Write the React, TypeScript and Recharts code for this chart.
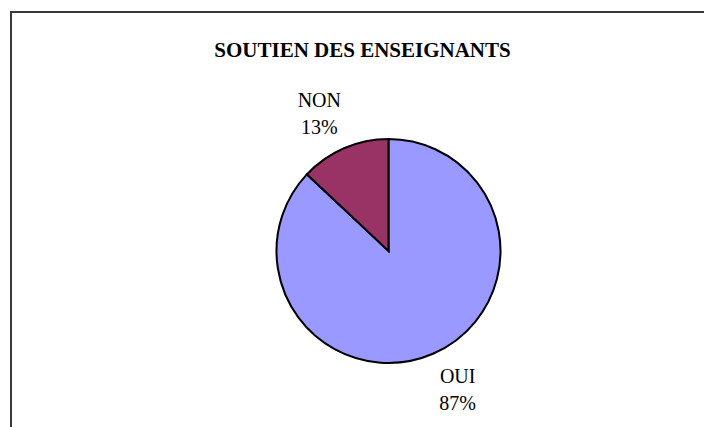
import React from "react";
import { PieChart, Pie, Cell } from "recharts";

const categories = ["OUI", "NON"];
const values = [87, 13];
const percentLabels = ["87%", "13%"];
const colors = ["#9999FF", "#993366"];
const title = "SOUTIEN DES ENSEIGNANTS";

const data = categories.map((name, i) => ({ name, value: values[i], pct: percentLabels[i] }));

const RAD = Math.PI / 180;

const renderLabel = (props: any) => {
  const { cx, cy, midAngle, outerRadius, index } = props;
  const r = outerRadius + 42;
  const a = (midAngle + 3.3) * RAD;
  const x = cx + r * Math.cos(a);
  const y = cy - r * Math.sin(a);
  return (
    <text
      x={x}
      y={y}
      textAnchor="middle"
      fontFamily="'Liberation Serif', 'Times New Roman', serif"
      fontSize={20}
      fill="#000"
    >
      <tspan x={x} y={y - 6}>{data[index].name}</tspan>
      <tspan x={x} y={y + 21}>{data[index].pct}</tspan>
    </text>
  );
};

export default function App() {
  return (
    <div style={{ position: "fixed", left: 0, top: 0, width: 704, height: 427, background: "#fff", overflow: "hidden" }}>
      <div
        style={{
          position: "absolute",
          left: 10,
          top: 11,
          width: 720,
          height: 440,
          borderLeft: "2px solid #3a3a3a",
          borderTop: "2px solid #3a3a3a",
          boxSizing: "border-box",
        }}
      />
      <div
        style={{
          position: "absolute",
          left: 0,
          width: 725,
          top: 38,
          textAlign: "center",
          fontFamily: "'Liberation Serif', 'Times New Roman', serif",
          fontWeight: "bold",
          fontSize: 21,
          lineHeight: "24px",
          color: "#000",
          whiteSpace: "nowrap",
        }}
      >
        {title}
      </div>
      <div style={{ position: "absolute", left: 0, top: 0 }}>
        <PieChart width={704} height={427}>
          <Pie
            data={data}
            dataKey="value"
            nameKey="name"
            cx={383.5}
            cy={246}
            outerRadius={112}
            startAngle={90}
            endAngle={-270}
            stroke="#000"
            strokeWidth={2}
            label={renderLabel}
            labelLine={false}
            isAnimationActive={false}
          >
            {data.map((d, i) => (
              <Cell key={d.name} fill={colors[i]} />
            ))}
          </Pie>
        </PieChart>
      </div>
    </div>
  );
}
